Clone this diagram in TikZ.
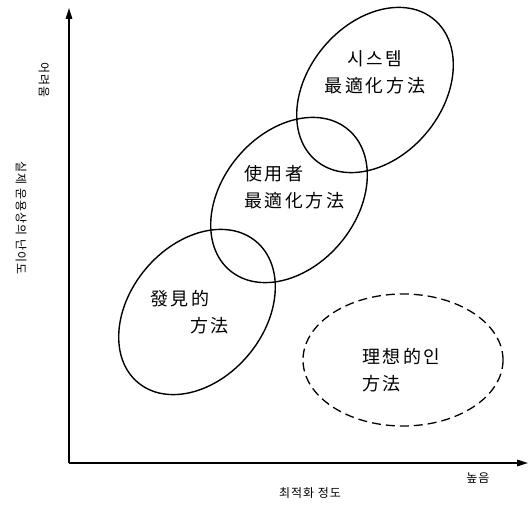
\documentclass[tikz,border=0pt]{standalone}
\usepackage{fontspec}
\usetikzlibrary{arrows.meta}
\newfontfamily\krfont[LetterSpace=14]{Noto Sans CJK KR}
\newfontfamily\axfont[LetterSpace=8]{Noto Sans CJK KR}

\begin{document}
\begin{tikzpicture}[
  x=1pt, y=-1pt,
  method/.style={line width=1.4pt},
  ideal/.style={line width=1.3pt, dash pattern=on 9pt off 5pt},
  axis/.style={line width=1.5pt, -{Triangle[length=11pt, width=6.5pt]}},
  mlab/.style={font=\krfont\fontsize{18}{27}\selectfont, inner sep=0pt},
  alab/.style={font=\axfont\fontsize{12}{14}\selectfont, inner sep=0pt},
]
\useasboundingbox (0,0) rectangle (532,518);

% axes
\coordinate (origin) at (69,463);
\coordinate (ytip) at (69,8);
\coordinate (xtip) at (528,463);
\draw[axis] (origin) -- (ytip);
\draw[axis] (origin) -- (xtip);

% method regions
\coordinate (sys) at (375,90);
\coordinate (usr) at (289,200);
\coordinate (heur) at (197,312);
\coordinate (best) at (403,360);
\draw[method, rotate around={50:(sys)}] (sys) ellipse [x radius=92, y radius=67];
\draw[method, rotate around={50:(usr)}] (usr) ellipse [x radius=92, y radius=67];
\draw[method, rotate around={50:(heur)}] (heur) ellipse [x radius=92, y radius=67];
\draw[ideal] (best) ellipse [x radius=100, y radius=66];

% texts inside
\node[mlab, align=center] (syslab) at (375,72) {시스템\\最適化方法};
\node[mlab, align=left, anchor=west] (usrlab) at (244,187) {使用者\\最適化方法};
\node[mlab, align=left, anchor=west] (heurlab) at (150,312) {發見的\\\hspace*{40pt}方法};
\node[mlab, align=left, anchor=west] (bestlab) at (362,370) {理想的인\\方法};

% axis labels
\node[alab, rotate=-90] (hard) at (44,80) {어려움};
\node[alab, rotate=-90] (ylab) at (21,218) {실제 운용상의 난이도};
\node[alab] (xlab) at (310,493) {최적화 정도};
\node[alab] (high) at (478,478) {높음};
\end{tikzpicture}
\end{document}
